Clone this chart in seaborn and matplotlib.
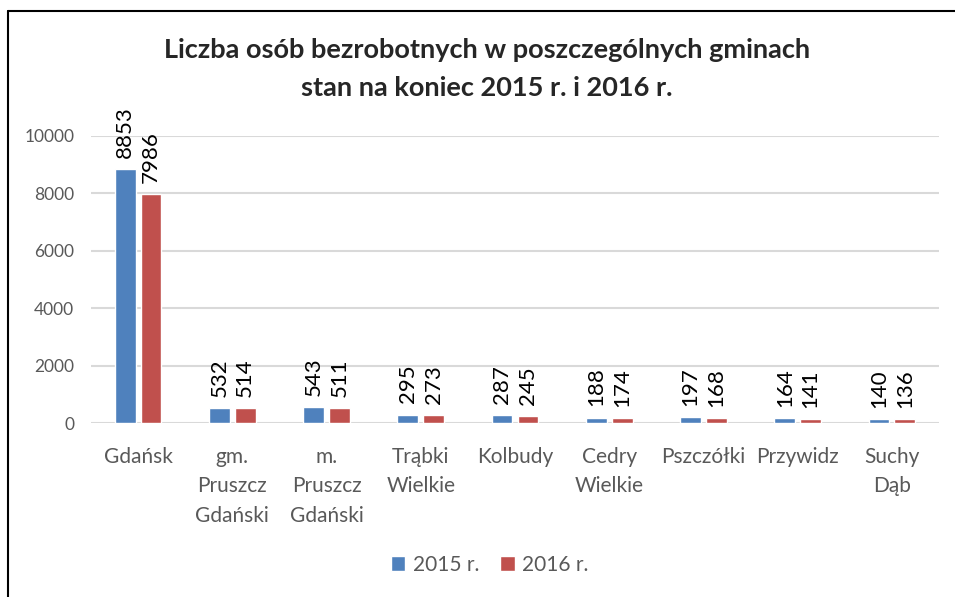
import pandas as pd
import numpy as np
import matplotlib.pyplot as plt
import seaborn as sns

# data
gminy = ["Gdańsk", "gm.\nPruszcz\nGdański", "m.\nPruszcz\nGdański", "Trąbki\nWielkie",
         "Kolbudy", "Cedry\nWielkie", "Pszczółki", "Przywidz", "Suchy\nDąb"]
lata = ["2015 r.", "2016 r."]
bezrobotni_2015 = [8853, 532, 543, 295, 287, 188, 197, 164, 140]
bezrobotni_2016 = [7986, 514, 511, 273, 245, 174, 168, 141, 136]

df = pd.DataFrame({
    "gmina": gminy * 2,
    "rok": [lata[0]] * len(gminy) + [lata[1]] * len(gminy),
    "liczba": bezrobotni_2015 + bezrobotni_2016,
})

sns.set_style("white")
plt.rcParams['font.family'] = ['Lato', 'DejaVu Sans']

fig = plt.figure(figsize=(9.55, 5.97), dpi=100)
ax = fig.add_axes([91 / 955, 1 - 423 / 597, 848 / 955, 287 / 597])

kolory = {"2015 r.": "#4F81BD", "2016 r.": "#C0504D"}
sns.barplot(data=df, x="gmina", y="liczba", hue="rok", palette=kolory,
            width=0.55, gap=0.2, saturation=1, ax=ax, legend=True)

# value labels
for cont in ax.containers:
    ax.bar_label(cont, rotation=90, padding=8, fontsize=16, color="black")

ax.set_ylim(0, 10000)
ax.set_yticks(range(0, 10001, 2000))
ax.yaxis.grid(True, color="#D9D9D9", linewidth=1.5)
ax.set_axisbelow(True)
for s in ax.spines.values():
    s.set_visible(False)
ax.set_xlabel("")
ax.set_ylabel("")
ax.tick_params(axis="y", labelsize=12.5, colors="#595959", length=0, pad=12)
ax.tick_params(axis="x", labelsize=15, colors="#595959", length=0, pad=17)
for t in ax.get_xticklabels():
    t.set_linespacing(1.6)
    t.set_verticalalignment("top")

leg = ax.legend(loc="center", bbox_to_anchor=(0.47, -0.495), ncol=2, frameon=False,
                fontsize=15, handlelength=0.7, handleheight=0.7, handletextpad=0.35,
                columnspacing=1.0)
for t in leg.get_texts():
    t.set_color("#595959")

fig.text(487 / 955, 1 - 50 / 597, "Liczba osób bezrobotnych w poszczególnych gminach",
         ha="center", va="center", fontsize=19.5, fontweight="bold")
fig.text(487 / 955, 1 - 88 / 597, "stan na koniec 2015 r. i 2016 r.",
         ha="center", va="center", fontsize=19.5, fontweight="bold")

# chart border (top and left visible in the crop)
fig.add_artist(plt.Line2D([8 / 955, 8 / 955], [0, 1 - 11 / 597], color="black", linewidth=1.5))
fig.add_artist(plt.Line2D([8 / 955, 1], [1 - 11 / 597, 1 - 11 / 597], color="black", linewidth=1.5))

fig.savefig("out.png", dpi=100)
